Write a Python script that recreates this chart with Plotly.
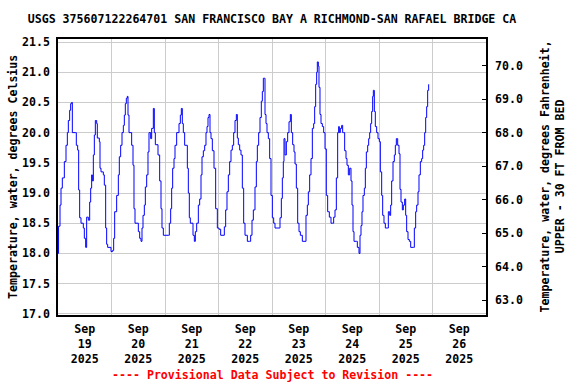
import pandas as pd
import plotly.graph_objects as go

start = "2025-09-19 00:00"
hours = [0.0, 0.25, 0.9, 1.35, 1.94, 2.84, 3.59, 4.19, 4.64, 5.23, 5.68, 6.13, 6.43, 7.93, 8.22, 8.82, 9.27, 9.72, 10.32, 11.36,
         11.81, 12.41, 12.86, 13.61, 14.21, 14.66, 15.1, 15.4, 15.85, 16.3, 16.75, 17.35, 17.64, 18.54, 18.84, 19.29, 20.34, 20.78,
         21.38, 21.83, 22.28, 23.78, 24.52, 24.97, 25.42, 26.32, 27.07, 27.51, 28.11, 28.71, 29.31, 29.76, 30.2, 30.65, 31.1, 31.4,
         31.85, 33.05, 33.65, 34.09, 34.54, 36.04, 36.64, 37.23, 37.68, 38.13, 38.73, 39.18, 39.78, 40.37, 40.82, 41.57, 42.02,
         42.77, 43.21, 43.66, 44.86, 45.61, 46.21, 46.65, 47.25, 49.49, 49.94, 50.54, 50.99, 51.44, 52.04, 52.49, 53.23, 54.28,
         54.88, 55.33, 55.77, 56.22, 56.82, 58.02, 58.47, 58.91, 59.36, 60.56, 61.16, 61.61, 62.21, 62.95, 63.55, 64.15, 64.6,
         65.2, 65.8, 66.39, 66.84, 67.29, 67.74, 68.19, 68.64, 69.23, 69.98, 70.73, 71.48, 72.22, 72.97, 74.02, 74.62, 75.21,
         75.81, 76.41, 77.01, 77.61, 78.21, 78.8, 79.4, 80.0, 80.45, 80.9, 81.5, 82.09, 82.69, 83.29, 83.89, 84.94, 85.83, 86.43,
         87.03, 87.63, 88.37, 88.97, 89.42, 90.02, 90.62, 91.21, 91.66, 92.11, 92.56, 92.86, 93.31, 93.76, 94.36, 94.95, 95.55,
         96.15, 96.75, 97.35, 99.29, 99.59, 100.19, 100.64, 101.08, 101.38, 101.83, 102.43, 103.03, 103.63, 104.23, 104.67,
         105.27, 105.87, 106.32, 106.92, 107.52, 108.11, 108.71, 109.61, 110.8, 111.25, 111.85, 112.3, 112.9, 113.5, 114.09,
         114.69, 115.14, 115.59, 116.04, 116.34, 116.79, 117.08, 117.53, 117.98, 118.58, 119.18, 119.78, 120.37, 120.97, 121.72,
         122.47, 123.22, 123.66, 124.26, 124.86, 125.46, 125.91, 126.2, 126.65, 127.25, 127.7, 128.15, 128.6, 129.2, 129.65,
         130.24, 130.84, 131.44, 131.89, 132.34, 132.79, 133.83, 134.28, 135.03, 135.48, 135.93, 136.37, 136.82, 137.42, 137.87,
         138.32, 138.92, 139.37, 139.82, 140.26, 140.71, 141.16, 141.46, 141.91, 142.35, 142.95, 143.55, 144.15, 144.6, 145.2,
         145.65, 146.24, 146.84, 147.89, 148.19, 148.79, 149.23, 149.68, 150.28, 150.88, 151.33, 151.78, 152.38, 152.97, 153.42,
         153.87, 154.47, 154.92, 155.52, 155.97, 156.41, 157.01, 157.61, 158.21, 159.55, 159.85, 160.45, 160.9, 161.5, 161.94,
         162.54, 163.14, 163.59, 164.04, 164.49, 164.94, 165.39, 165.83, 166.28]
temps_c = [18.0, 18.45, 18.8, 19.08, 19.25, 19.52, 19.79, 20.0, 20.2, 20.37, 20.48, 20.5, 20.0, 20.0, 19.79, 19.71, 19.05, 18.59,
           18.5, 18.42, 18.25, 18.1, 18.6, 18.55, 18.85, 19.08, 19.3, 19.2, 19.63, 19.96, 20.2, 20.15, 19.91, 19.85, 19.41, 19.35,
           19.3, 19.13, 18.42, 18.15, 18.1, 18.03, 18.05, 18.25, 18.69, 18.96, 19.3, 19.6, 19.79, 20.0, 20.12, 20.29, 20.48, 20.57,
           20.6, 20.29, 20.0, 19.79, 19.46, 18.74, 18.5, 18.36, 18.25, 18.2, 18.42, 18.63, 18.8, 19.1, 19.3, 19.68, 20.0, 19.9,
           20.07, 20.4, 20.0, 19.8, 19.63, 19.2, 18.74, 18.42, 18.3, 18.3, 18.5, 18.74, 19.08, 19.41, 19.57, 19.79, 20.0, 20.15,
           20.29, 20.4, 20.15, 20.0, 19.79, 19.41, 19.0, 18.59, 18.5, 18.3, 18.2, 18.36, 18.5, 18.8, 18.9, 19.3, 19.6, 19.7, 19.79,
           20.0, 20.1, 20.25, 20.3, 20.0, 19.9, 19.7, 19.41, 18.74, 18.42, 18.4, 18.3, 18.3, 18.44, 18.72, 19.02, 19.3, 19.52,
           19.71, 19.79, 20.0, 20.2, 20.3, 19.91, 19.8, 19.71, 19.63, 19.08, 18.5, 18.3, 18.2, 18.2, 18.3, 18.55, 18.72, 19.1,
           19.52, 19.79, 20.0, 20.25, 20.52, 20.68, 20.9, 20.9, 20.3, 20.15, 20.0, 19.9, 19.57, 18.96, 18.59, 18.5, 18.42, 18.42,
           18.59, 18.91, 19.25, 19.52, 19.9, 19.63, 19.85, 20.0, 20.18, 20.3, 20.0, 19.8, 19.68, 19.48, 19.08, 18.5, 18.36, 18.3,
           18.2, 18.2, 18.63, 18.8, 19.02, 19.3, 19.57, 20.07, 20.15, 20.43, 20.8, 21.0, 21.17, 21.1, 20.75, 20.3, 20.15, 20.1,
           20.0, 19.73, 18.96, 18.69, 18.6, 18.5, 18.5, 18.6, 18.72, 19.25, 20.0, 20.1, 20.0, 20.07, 20.12, 20.0, 20.0, 19.7,
           19.57, 19.46, 19.3, 19.41, 19.2, 18.8, 18.36, 18.2, 18.2, 18.1, 18.0, 18.3, 18.46, 18.69, 18.96, 19.08, 19.41, 19.68,
           19.79, 19.9, 20.0, 20.15, 20.35, 20.6, 20.7, 20.35, 20.1, 20.0, 19.9, 19.85, 19.35, 18.96, 18.63, 18.5, 18.42, 18.42,
           18.69, 18.63, 18.8, 19.2, 19.52, 19.63, 19.79, 19.9, 19.79, 19.65, 19.06, 18.85, 18.72, 18.8, 18.9, 18.63, 18.36,
           18.23, 18.2, 18.1, 18.1, 18.42, 18.69, 18.8, 19.02, 19.3, 19.52, 19.57, 19.71, 19.79, 20.0, 20.25, 20.43, 20.7, 20.8]

c_ticks = [17.0, 17.5, 18.0, 18.5, 19.0, 19.5, 20.0, 20.5, 21.0, 21.5]
f_ticks = [63.0, 64.0, 65.0, 66.0, 67.0, 68.0, 69.0, 70.0]
label_days = ["2025-09-19", "2025-09-20", "2025-09-21", "2025-09-22",
              "2025-09-23", "2025-09-24", "2025-09-25", "2025-09-26"]
c_range = [16.98, 21.55]
x_range = ["2025-09-19 00:00", "2025-09-27 00:00"]

times = pd.Timestamp(start) + pd.to_timedelta(hours, unit="h")
f_range = [c * 9 / 5 + 32 for c in c_range]
label_pos = [pd.Timestamp(d) + pd.Timedelta(hours=12) for d in label_days]
label_txt = [pd.Timestamp(d).strftime("%b<br>%d<br>%Y") for d in label_days]

FONT = "DejaVu Sans Mono"
fs = 11.6

fig = go.Figure()
fig.add_trace(go.Scatter(x=times, y=temps_c, mode="lines", line=dict(color="#0000FF", width=1, shape="hv"),
                         showlegend=False, hoverinfo="skip"))
# invisible trace to activate right axis
fig.add_trace(go.Scatter(x=[times[0]], y=[f_range[0]], yaxis="y2", mode="markers",
                         marker=dict(opacity=0), showlegend=False, hoverinfo="skip"))

fig.update_layout(
    width=576, height=384,
    margin=dict(l=58, r=90, t=39, b=69),
    paper_bgcolor="white", plot_bgcolor="white",
    font=dict(family=FONT, size=fs, color="black"),
    title=dict(text="<b>USGS 375607122264701 SAN FRANCISCO BAY A RICHMOND-SAN RAFAEL BRIDGE CA</b>",
               x=0.5, xref="paper", xanchor="center", y=1 - 19 / 384, yref="container", yanchor="middle",
               font=dict(family=FONT, size=fs, color="black")),
    xaxis=dict(range=x_range, tickvals=label_pos, ticktext=["<b>%s</b>" % t.replace("<br>", "</b><br><b>") for t in label_txt],
               showgrid=False, ticks="", showline=True, mirror=True, linecolor="black", linewidth=1.5,
               tickfont=dict(family=FONT, size=fs), zeroline=False, automargin=False, ticklabelstandoff=2,
               minor=dict(dtick=86400000, tick0="2025-09-19", showgrid=True, gridcolor="#cccccc", gridwidth=1, ticks="")),
    yaxis=dict(range=c_range, tickvals=c_ticks, ticktext=["<b>%.1f</b>" % v for v in c_ticks],
               showgrid=True, gridcolor="#cccccc", gridwidth=1, ticks="", zeroline=False, automargin=False,
               showline=True, mirror=True, linecolor="black", linewidth=1.5, ticklabelstandoff=4,
               tickfont=dict(family=FONT, size=fs)),
    yaxis2=dict(range=f_range, overlaying="y", side="right", tickvals=f_ticks, automargin=False,
                ticktext=["<b>%.1f</b>" % v for v in f_ticks], showgrid=False, zeroline=False,
                ticks="inside", ticklen=4, tickcolor="black", ticklabelstandoff=8,
                tickfont=dict(family=FONT, size=fs)),
)

fig.add_annotation(text="<b>Temperature, water, degrees Celsius</b>", textangle=-90,
                   xref="paper", yref="paper", x=(13 - 58) / 428, y=0.5, xanchor="center", yanchor="middle",
                   showarrow=False, font=dict(family=FONT, size=fs, color="black"))
fig.add_annotation(text="<b>Temperature, water, degrees Fahrenheit,</b><br><b>UPPER - 30 FT FROM BED</b>", textangle=-90,
                   xref="paper", yref="paper", x=(551.5 - 58) / 428, y=0.5, xanchor="center", yanchor="middle",
                   showarrow=False, font=dict(family=FONT, size=fs, color="black"))
fig.add_annotation(text="<b>---- Provisional Data Subject to Revision ----</b>",
                   xref="paper", yref="paper", x=0.5, y=(315 - 375) / 276, xanchor="center", yanchor="middle",
                   showarrow=False, font=dict(family=FONT, size=fs, color="red"))

fig.write_html("out.html", config={"displayModeBar": False},
               post_script="document.body.style.margin='0';document.body.style.overflow='hidden';")
